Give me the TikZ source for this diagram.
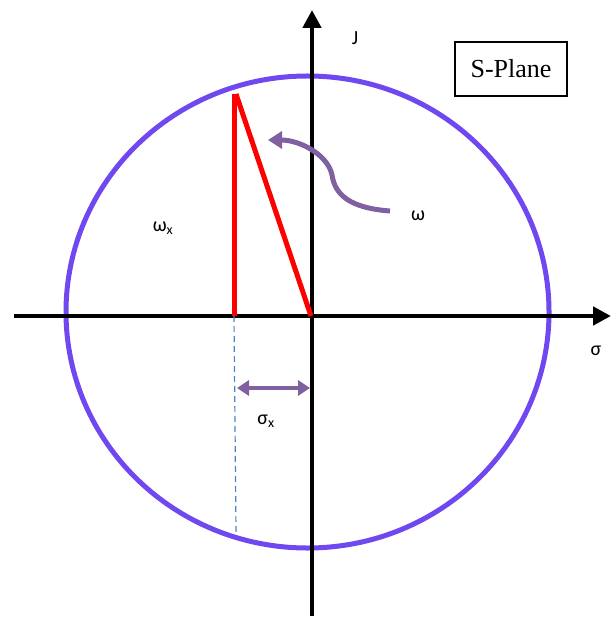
\documentclass[tikz,border=0pt]{standalone}
\usepackage{fontspec}
\setmainfont{Liberation Serif}
\newfontfamily\grk{Carlito}
\usetikzlibrary{arrows.meta}
\definecolor{circ}{RGB}{112,72,240}
\definecolor{purp}{RGB}{128,96,160}
\definecolor{dashblue}{RGB}{80,130,190}
\tikzset{
  axis/.style={line width=4.5pt, -{Triangle[length=18pt,width=18pt]}},
  redline/.style={red, line width=5pt},
  glabel/.style={font=\grk\fontsize{20}{22}\selectfont, inner sep=0pt},
}
\begin{document}
\begin{tikzpicture}[x=1pt,y=-1pt]
\useasboundingbox (0,0) rectangle (613,617);
% circle
\draw[circ, line width=5pt] (307.5,312) ellipse [x radius=241.5, y radius=236];
% axes
\coordinate (xl) at (14,316);
\coordinate (xr) at (611,316);
\coordinate (yb) at (312,616);
\coordinate (yt) at (312,10);
\coordinate (o) at (311,316);
\draw[axis] (xl) -- (xr);
\draw[axis] (yb) -- (yt);
% red triangle
\coordinate (rb) at (234,316);
\coordinate (rt) at (234,94);
\coordinate (rt2) at (236,94);
\draw[redline] (rb) -- (rt);
\draw[redline] (rt2) -- (o);
% dashed
\coordinate (db) at (236,532);
\draw[dashblue, line width=1.2pt, dash pattern=on 6pt off 4pt] (rb) -- (db);
% curved arrow
\coordinate (ws) at (390,211);
\coordinate (wt) at (268,140);
\draw[purp, line width=5pt, -{Triangle[length=14pt,width=17pt]}]
  (ws) .. controls (350,208) and (335,195) .. (332,175)
  .. controls (328,155) and (300,140) .. (wt);
% double arrow
\coordinate (da) at (237,388);
\coordinate (dbb) at (310,388);
\draw[purp, line width=4.5pt, {Triangle[length=12pt,width=15pt]}-{Triangle[length=12pt,width=15pt]}] (da) -- (dbb);
% labels
\node[glabel] (wx) at (163,228) {ω\textsubscript{x}};
\node[glabel] (w) at (418,216) {ω};
\node[glabel] (sx) at (266,421) {σ\textsubscript{x}};
\node[glabel] (J) at (355,38) {J};
\node[glabel] (s) at (596,351) {σ};
% S-Plane box
\node[draw, line width=1.8pt, minimum width=112pt, minimum height=54pt, font=\fontsize{26}{28}\selectfont] (sp) at (511,69) {S-Plane};
\end{tikzpicture}
\end{document}
